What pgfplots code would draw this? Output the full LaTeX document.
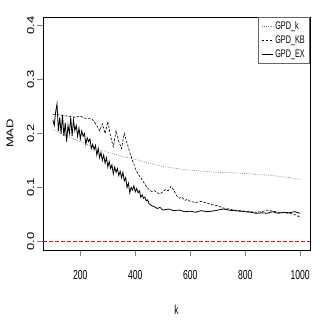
\documentclass[border=0pt]{standalone}
\usepackage{fontspec}
\setmainfont{Liberation Sans}
\newfontfamily\hfont{Liberation Sans}[FakeStretch=0.66]
\usepackage{pgfplots}
\usepackage{pgfplotstable}
\pgfplotsset{compat=1.18}
\pgfplotstableread{
k v
100 0.207
150 0.195
200 0.185
250 0.175
300 0.165
350 0.158
400 0.152
450 0.145
500 0.139
550 0.135
600 0.132
650 0.130
700 0.128
750 0.127
800 0.126
850 0.124
900 0.122
950 0.119
1000 0.115
}\gpdk
\pgfplotstableread{
k v
100 0.235
120 0.235
140 0.233
160 0.232
180 0.230
200 0.232
220 0.228
240 0.228
250 0.222
260 0.215
270 0.205
280 0.218
290 0.200
300 0.222
310 0.195
320 0.175
330 0.205
340 0.185
350 0.172
360 0.200
370 0.182
380 0.165
390 0.150
400 0.135
410 0.125
420 0.118
430 0.110
440 0.102
450 0.096
460 0.092
470 0.094
480 0.090
490 0.088
500 0.092
510 0.096
520 0.094
530 0.102
540 0.095
550 0.085
560 0.080
570 0.082
580 0.076
590 0.078
600 0.074
620 0.072
640 0.074
660 0.071
680 0.068
700 0.066
720 0.062
740 0.060
760 0.058
780 0.057
800 0.056
820 0.055
840 0.054
860 0.055
880 0.058
900 0.056
920 0.054
940 0.053
960 0.052
980 0.050
1000 0.045
}\gpdkb
\pgfplotstableread{
k v
100 0.225
105 0.215
110 0.240
115 0.255
120 0.205
125 0.230
130 0.200
135 0.235
140 0.195
145 0.220
150 0.185
155 0.215
160 0.200
165 0.230
170 0.195
175 0.225
180 0.205
185 0.215
190 0.195
195 0.210
200 0.190
205 0.205
210 0.195
215 0.200
220 0.180
225 0.192
230 0.185
235 0.190
240 0.172
245 0.180
250 0.170
255 0.178
260 0.160
265 0.172
270 0.155
275 0.165
280 0.150
285 0.160
290 0.145
295 0.155
300 0.138
305 0.148
310 0.135
315 0.142
320 0.125
325 0.138
330 0.128
335 0.135
340 0.122
345 0.130
350 0.118
355 0.128
360 0.112
365 0.118
370 0.100
375 0.108
380 0.090
385 0.100
390 0.095
395 0.103
400 0.092
405 0.098
410 0.090
415 0.094
420 0.082
425 0.086
430 0.080
435 0.082
440 0.075
445 0.077
450 0.070
460 0.066
470 0.064
480 0.061
490 0.063
500 0.058
520 0.060
540 0.057
560 0.058
580 0.055
600 0.056
620 0.054
640 0.057
660 0.055
680 0.056
700 0.058
720 0.060
740 0.058
760 0.057
780 0.056
800 0.055
820 0.054
840 0.052
860 0.053
880 0.052
900 0.055
920 0.052
940 0.054
960 0.053
980 0.055
1000 0.052
}\gpdex
\begin{document}
\begin{tikzpicture}
\useasboundingbox (-43pt,-77pt) rectangle (277pt,250pt);
\begin{axis}[
  scale only axis, width=267pt, height=233pt,
  xmin=64, xmax=1036, ymin=-0.016, ymax=0.416,
  axis line style={line width=0.8pt},
  tick align=outside, major tick length=6pt,
  xtick pos=bottom, ytick pos=left,
  tick style={line width=0.6pt},
  xtick={200,400,600,800,1000}, xticklabels={200,400,600,800,1000},
  ytick={0,0.1,0.2,0.3,0.4}, yticklabels={0.0,0.1,0.2,0.3,0.4},
  xticklabel style={font=\hfont\fontsize{13}{13}\selectfont, yshift=-11pt},
  yticklabel style={font=\fontsize{13}{13}\selectfont, xscale=0.78, rotate=90, anchor=south},
  xlabel={k}, ylabel={MAD},
  xlabel style={font=\hfont\fontsize{13}{13}\selectfont, at={(axis description cs:0.5,-0.2575)}, anchor=center},
  ylabel style={font=\fontsize{13}{13}\selectfont, at={(axis description cs:-0.1236,0.5)}, anchor=center, rotate=-90, xscale=0.75, rotate=90},
  legend style={at={(1,1)}, anchor=north east, draw=black!60, line width=0.5pt,
    font=\hfont\fontsize{11}{11}\selectfont, inner xsep=3pt, inner ysep=2pt, row sep=1pt,
    cells={anchor=west}},
  legend image code/.code={\draw[#1] (0pt,0pt) -- (11pt,0pt);},
]
\addplot[black!55, line width=0.6pt, dash pattern=on 0.8pt off 1.4pt] table[x=k,y=v] {\gpdk};
\addlegendentry{GPD\_k}
\addplot[black, line width=0.6pt, dash pattern=on 2.5pt off 1.5pt] table[x=k,y=v] {\gpdkb};
\addlegendentry{GPD\_KB}
\addplot[black, line width=0.8pt] table[x=k,y=v] {\gpdex};
\addlegendentry{GPD\_EX}
\addplot[draw=red, color=red, line width=1.2pt, dash pattern=on 4pt off 2pt] coordinates {(64,0) (1036,0)};
\draw[red, line width=1.2pt, dash pattern=on 4pt off 2pt] (axis cs:64,0) -- (axis cs:1036,0);
\end{axis}
\end{tikzpicture}
\end{document}
